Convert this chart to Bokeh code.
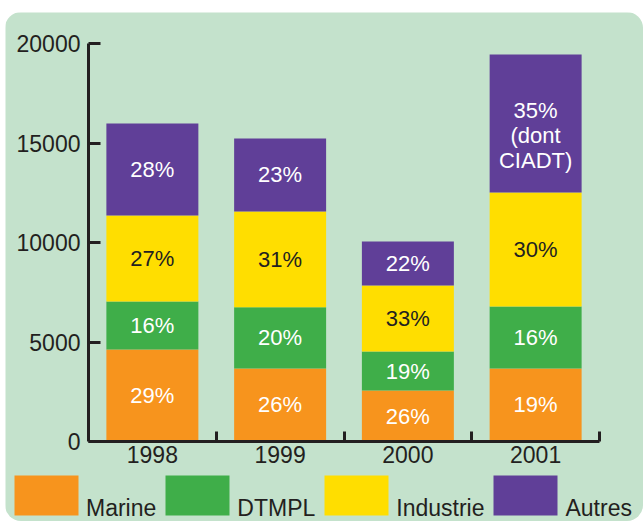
from bokeh.plotting import figure
from bokeh.models import Range1d, FixedTicker, Legend, LegendItem, ColumnDataSource
from bokeh.core.properties import value
from bokeh.embed import file_html
from bokeh.resources import INLINE

years = ["1998", "1999", "2000", "2001"]
series = ["Marine", "DTMPL", "Industrie", "Autres"]
marine = [4620, 3670, 2560, 3670]
dtmpl = [2410, 3070, 1960, 3110]
industrie = [4330, 4820, 3320, 5730]
autres = [4620, 3670, 2210, 6940]
pct_marine = ["29%", "26%", "26%", "19%"]
pct_dtmpl = ["16%", "20%", "19%", "16%"]
pct_industrie = ["27%", "31%", "33%", "30%"]
pct_autres = ["28%", "23%", "22%", "35%\n(dont\nCIADT)"]
y_ticks = [0, 5000, 10000, 15000, 20000]
y_max = 20000

colors = ["#f7941d", "#3fae49", "#ffde00", "#603f98"]
label_colors = ["white", "white", "#231f20", "white"]
bg = "#c4e2cc"
ink = "#231f20"
font = "Liberation Sans"

# layout geometry (pixels inside the figure)
W, H = 638, 509
ax_left, ax_right = 83, 594     # x=0 and x=n
ax_top, ax_bottom = 31, 429     # y=max and y=0
n = len(years)
ux = (ax_right - ax_left) / n
uy = (ax_bottom - ax_top) / y_max
x_range = Range1d(-ax_left / ux, n + (W - ax_right) / ux)
y_range = Range1d(-(H - ax_bottom) / uy, y_max + ax_top / uy)

xs = [i + 0.5 for i in range(n)]
data = dict(x=xs, Marine=marine, DTMPL=dtmpl, Industrie=industrie, Autres=autres)
src = ColumnDataSource(data)

p = figure(width=W, height=H, output_backend="svg", toolbar_location=None,
           x_range=x_range, y_range=y_range,
           min_border_left=0, min_border_right=0, min_border_top=0, min_border_bottom=0)
p.margin = (12, 0, 0, 5)
p.styles = {"border-radius": "16px", "overflow": "hidden"}
p.background_fill_color = bg
p.border_fill_color = bg
p.outline_line_color = None
p.xgrid.visible = False
p.ygrid.visible = False

rs = p.vbar_stack(series, x="x", width=0.72, color=colors, line_color=None, source=src)

# labels
stacks = [marine, dtmpl, industrie, autres]
pcts = [pct_marine, pct_dtmpl, pct_industrie, pct_autres]
cum = [0] * n
for s, vals in enumerate(stacks):
    mids = [cum[i] + vals[i] / 2 for i in range(n)]
    cum = [cum[i] + vals[i] for i in range(n)]
    lsrc = ColumnDataSource(dict(x=xs, y=mids, t=pcts[s],
                                 dy=[12 if "\n" in t else 0 for t in pcts[s]]))
    p.text(x="x", y="y", text="t", y_offset="dy", source=lsrc,
           text_align="center", text_baseline="middle",
           text_font=value(font), text_font_size="22px", text_color=label_colors[s],
           text_line_height=1.0)

# axes
for ax in (p.xaxis[0], p.yaxis[0]):
    ax.axis_line_width = 3
    ax.axis_line_color = ink
    ax.major_tick_line_color = ink
    ax.major_tick_line_width = 3
    ax.minor_tick_line_color = ink
    ax.minor_tick_line_width = 3
    ax.major_label_text_font = font
    ax.major_label_text_font_size = "23px"
    ax.major_label_text_color = ink
    ax.fixed_location = 0

p.yaxis.bounds = (0, y_max)
p.yaxis.ticker = FixedTicker(ticks=y_ticks)
p.yaxis.major_tick_in = 12
p.yaxis.major_tick_out = 0
p.yaxis.minor_tick_in = 0
p.yaxis.minor_tick_out = 0
p.yaxis.major_label_standoff = 8

p.xaxis.bounds = (0, n)
p.xaxis.ticker = FixedTicker(ticks=xs, minor_ticks=[i + 1 for i in range(n)])
p.xaxis.major_label_overrides = {x: y for x, y in zip(xs, years)}
p.xaxis.major_tick_in = 0
p.xaxis.major_tick_out = 0
p.xaxis.minor_tick_in = 10
p.xaxis.minor_tick_out = 0
p.xaxis.major_label_standoff = 4

legend = Legend(items=[LegendItem(label="\n" + s, renderers=[r]) for s, r in zip(series, rs)],
                orientation="horizontal", location=(1, -1),
                glyph_width=80, glyph_height=50, label_standoff=0, spacing=1,
                padding=0, margin=0, border_line_color=None, background_fill_alpha=0,
                label_text_font=font, label_text_font_size="23px", label_text_color=ink,
                label_text_line_height=1.0)
p.add_layout(legend, "center")

open("out.html", "w").write(file_html(p, INLINE))
